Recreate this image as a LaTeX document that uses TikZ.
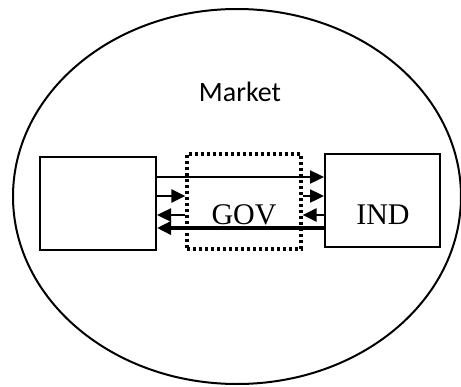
\documentclass[tikz,border=0pt]{standalone}
\usepackage{fontspec}
\setmainfont{Liberation Serif}
\newfontfamily\marketfont{Carlito}
\usetikzlibrary{arrows.meta,shapes.geometric}
\begin{document}
\begin{tikzpicture}[x=1pt,y=-1pt,
  box/.style={draw,line width=2pt,minimum width=#1,minimum height=93pt,inner sep=0pt},
  dotbox/.style={draw,line width=3.2pt,dash pattern=on 3pt off 3pt,minimum width=114pt,minimum height=95pt,inner sep=0pt},
  lbl/.style={font=\fontsize{30}{36}\selectfont,inner sep=0pt,anchor=base},
  flow/.style={line width=2.4pt,-{Triangle[length=14pt,width=13pt]}},
  flowthick/.style={line width=3.4pt,-{Triangle[length=14pt,width=13pt]}}]
\useasboundingbox (0,0) rectangle (461,386);
\node[draw,ellipse,line width=2pt,minimum width=448pt,minimum height=375pt,inner sep=0pt] (M) at (237,196.5) {};
\node[font=\marketfont\fontsize{28}{33}\selectfont,inner sep=0pt,anchor=base] (mk) at (240,101) {Market};
\node[box=116pt] (L) at (98,203.5) {};
\node[box=115pt] (I) at (382.5,200.5) {};
\node[dotbox] (G) at (244,201.5) {};
\node[lbl] (gt) at (244,224) {GOV};
\node[lbl] (it) at (383,224) {IND};
% arrows
\draw[flow] (L.east |- 0,177) -- (I.west |- 0,177);
\draw[flow] (L.east |- 0,196) -- (G.west |- 0,196);
\draw[flow] (G.east |- 0,196) -- (I.west |- 0,196);
\draw[flow] (G.west |- 0,215) -- (L.east |- 0,215);
\draw[flow] (I.west |- 0,215) -- (G.east |- 0,215);
\draw[flowthick] (I.west |- 0,228) -- (L.east |- 0,228);
\end{tikzpicture}
\end{document}
